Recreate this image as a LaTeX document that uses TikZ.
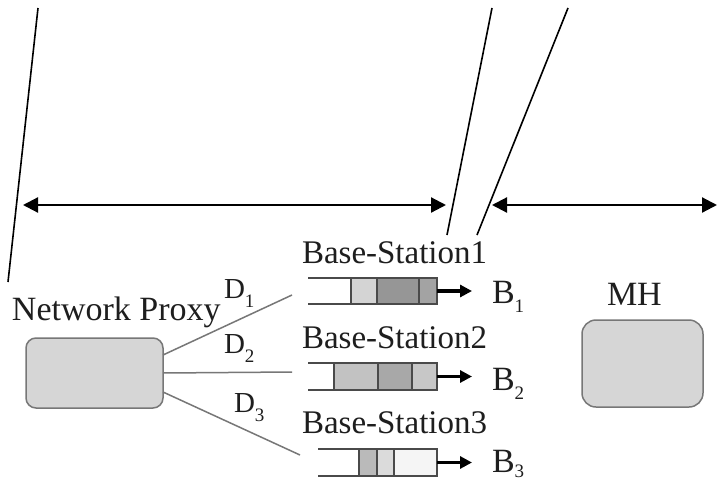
\documentclass[tikz,border=0pt]{standalone}
\usepackage{fontspec}
\setmainfont{Liberation Serif}
\usetikzlibrary{arrows.meta}
\definecolor{txt}{HTML}{1E1E1E}
\definecolor{boxfill}{HTML}{D6D6D6}
\definecolor{boxline}{HTML}{777777}
\definecolor{qline}{HTML}{4A4A4A}
\newcommand{\subnum}[1]{\raisebox{-9pt}{\fontsize{19}{19}\selectfont #1}}
\begin{document}
\begin{tikzpicture}[x=1pt,y=-1pt,
  lbl/.style={anchor=base west, inner sep=0pt, outer sep=0pt, text=txt, font=\fontsize{33}{38}\selectfont},
  biglbl/.style={lbl, font=\fontsize{34}{38}\selectfont},
  dlbl/.style={lbl, font=\fontsize{29}{32}\selectfont},
  blbl/.style={lbl, font=\fontsize{34}{36}\selectfont},
  hostbox/.style={draw=boxline, fill=boxfill, line width=1.5pt, inner sep=0pt, outer sep=0pt},
  cell/.style={draw=qline, line width=1.4pt, inner sep=0pt, outer sep=0pt},
  openq/.style={draw=qline, line width=1.4pt},
  dimarrow/.style={line width=2.2pt, {Triangle[length=15pt,width=15pt]}-{Triangle[length=15pt,width=15pt]}},
  qarrow/.style={line width=3.5pt, -{Triangle[length=12pt,width=12pt]}},
  link/.style={draw=boxline, line width=1.5pt},
  cut/.style={line width=1.6pt}]
\fill[white] (0,0) rectangle (717,482);
\useasboundingbox (0,0) rectangle (717,482);

% cut lines
\coordinate (c1t) at (38,8);  \coordinate (c1b) at (8,282);
\coordinate (c2t) at (492,8); \coordinate (c2b) at (447,235);
\coordinate (c3t) at (568,8); \coordinate (c3b) at (477,235);
\draw[cut] (c1t) -- (c1b);
\draw[cut] (c2t) -- (c2b);
\draw[cut] (c3t) -- (c3b);

% dimension arrows
\coordinate (a1l) at (23,205);  \coordinate (a1r) at (446,205);
\coordinate (a2l) at (492,205); \coordinate (a2r) at (717,205);
\draw[dimarrow] (a1l) -- (a1r);
\draw[dimarrow] (a2l) -- (a2r);

% hosts
\node[hostbox, rounded corners=10pt, minimum width=137pt, minimum height=70pt] (proxy) at (94.5,373) {};
\node[hostbox, rounded corners=14pt, minimum width=121pt, minimum height=87pt] (mh) at (642.5,363.5) {};
\node[biglbl] (proxylbl) at (12,320) {Network Proxy};
\node[biglbl] (mhlbl) at (607,305) {MH};

% links
\coordinate (d1e) at (292,295);
\coordinate (d2e) at (292,372);
\coordinate (d3e) at (300,455);
\draw[link] ([yshift=18pt]proxy.east) -- (d1e);
\draw[link] (proxy.east) -- (d2e);
\draw[link] ([yshift=-19pt]proxy.east) -- (d3e);
\node[dlbl] (d1) at (224,298) {D\subnum{1}};
\node[dlbl] (d2) at (224,353) {D\subnum{2}};
\node[dlbl] (d3) at (234,412) {D\subnum{3}};

% base station 1
\node[lbl] (bs1) at (302,263) {Base-Station1};
\node[cell, fill=black!17, minimum width=26pt, minimum height=26pt] (q1a) at (364,291) {};
\node[cell, fill=black!41, minimum width=42pt, minimum height=26pt] (q1b) at (398,291) {};
\node[cell, fill=black!36, minimum width=18pt, minimum height=26pt] (q1c) at (428,291) {};
\coordinate (q1s) at (308,278); \coordinate (q1t) at (308,304);
\draw[openq] (q1s) -- (q1a.north west);
\draw[openq] (q1t) -- (q1a.south west);
\coordinate (q1e) at (472,291);
\draw[qarrow] (q1c.east) -- (q1e);
\node[blbl] (b1) at (492,303) {B\subnum{1}};

% base station 2
\node[lbl] (bs2) at (302,348) {Base-Station2};
\node[cell, fill=black!24, minimum width=44pt, minimum height=27pt] (q2a) at (356,376.5) {};
\node[cell, fill=black!34, minimum width=34pt, minimum height=27pt] (q2b) at (395,376.5) {};
\node[cell, fill=black!22, minimum width=25pt, minimum height=27pt] (q2c) at (424.5,376.5) {};
\coordinate (q2s) at (308,363); \coordinate (q2t) at (308,390);
\draw[openq] (q2s) -- (q2a.north west);
\draw[openq] (q2t) -- (q2a.south west);
\coordinate (q2e) at (472,376.5);
\draw[qarrow] (q2c.east) -- (q2e);
\node[blbl] (b2) at (492,390) {B\subnum{2}};

% base station 3
\node[lbl] (bs3) at (302,433) {Base-Station3};
\node[cell, fill=black!27, minimum width=18pt, minimum height=27pt] (q3a) at (368,462.5) {};
\node[cell, fill=black!14, minimum width=17pt, minimum height=27pt] (q3b) at (385.5,462.5) {};
\node[cell, fill=black!4, minimum width=43pt, minimum height=27pt] (q3c) at (415.5,462.5) {};
\coordinate (q3s) at (318,449); \coordinate (q3t) at (318,476);
\draw[openq] (q3s) -- (q3a.north west);
\draw[openq] (q3t) -- (q3a.south west);
\coordinate (q3e) at (472,462.5);
\draw[qarrow] (q3c.east) -- (q3e);
\node[blbl] (b3) at (492,472) {B\raisebox{-5pt}{\fontsize{19}{19}\selectfont 3}};
\end{tikzpicture}
\end{document}
